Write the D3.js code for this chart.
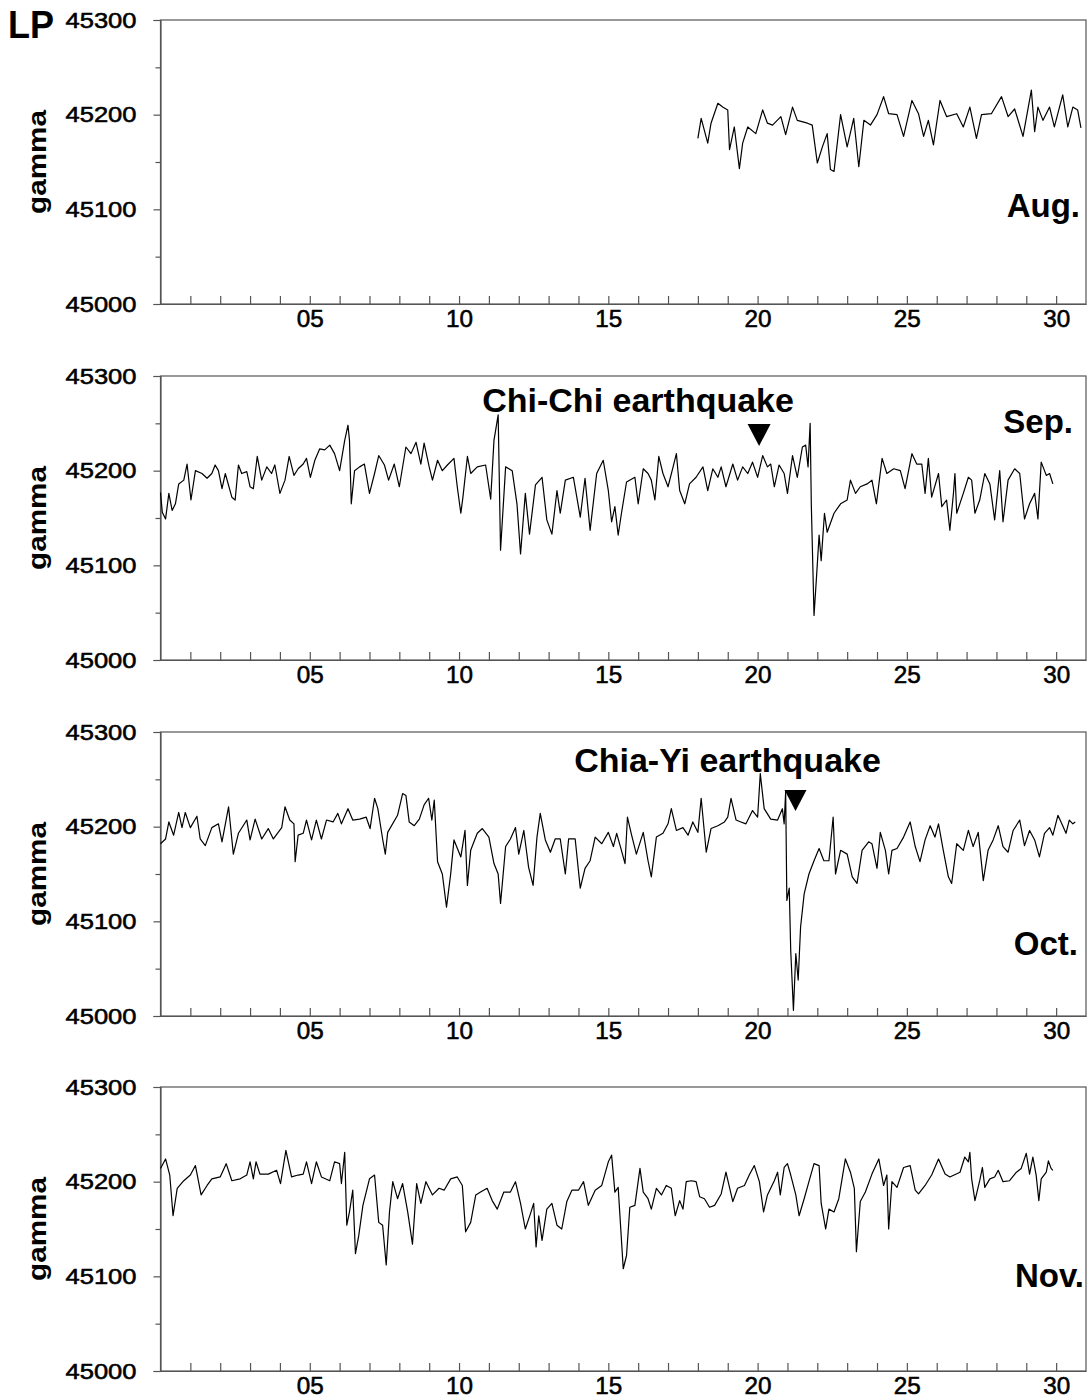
<!DOCTYPE html>
<html>
<head>
<meta charset="utf-8">
<script src="https://cdn.jsdelivr.net/npm/d3@7"></script>
<style>
  body { margin: 0; background: #fff; }
  svg { display: block; }
</style>
</head>
<body>
<div id="chart"></div>
<script>
// ---- Data (Aug-Nov) ----
const monthNames = ["Aug.", "Sep.", "Oct.", "Nov."];
const yTicks = [45000, 45100, 45200, 45300];
const yMinorTicks = [45050, 45150, 45250];
const dayTicks = d3.range(1, 31);
const dayLabels = [5, 10, 15, 20, 25, 30];

// [day of month, field in gamma]
const aug = [[18.00,45175],[18.11,45196],[18.33,45170],[18.44,45191],[18.67,45212],[18.83,45208],[19.0,45205],[19.06,45163],[19.22,45187],[19.39,45143],[19.5,45170],[19.67,45187],[19.94,45180],[20.17,45205],[20.33,45191],[20.5,45189],[20.78,45198],[20.94,45179],[21.17,45208],[21.33,45194],[21.67,45191],[21.83,45189],[22.0,45149],[22.17,45166],[22.33,45180],[22.44,45142],[22.56,45140],[22.78,45200],[23.0,45166],[23.22,45196],[23.39,45145],[23.56,45194],[23.78,45189],[24.0,45200],[24.22,45219],[24.39,45201],[24.67,45200],[24.89,45177],[25.17,45215],[25.39,45201],[25.56,45177],[25.72,45194],[25.89,45168],[26.11,45215],[26.33,45198],[26.67,45201],[26.89,45187],[27.11,45208],[27.33,45175],[27.5,45200],[27.83,45201],[28.17,45219],[28.39,45198],[28.61,45206],[28.89,45177],[29.17,45226],[29.28,45182],[29.39,45208],[29.56,45194],[29.78,45208],[29.94,45187],[30.22,45221],[30.39,45187],[30.56,45208],[30.72,45205],[30.83,45186]];

const sep = [[0,45177],[0.06,45156],[0.17,45149],[0.28,45176],[0.39,45158],[0.5,45165],[0.61,45186],[0.78,45190],[0.89,45207],[1.02,45169],[1.17,45200],[1.39,45197],[1.56,45192],[1.72,45197],[1.83,45206],[1.94,45200],[2.06,45181],[2.17,45197],[2.39,45172],[2.5,45169],[2.61,45206],[2.72,45197],[2.89,45199],[3.0,45183],[3.11,45181],[3.24,45215],[3.39,45190],[3.56,45204],[3.72,45197],[3.83,45206],[4.0,45176],[4.17,45190],[4.31,45215],[4.47,45195],[4.61,45202],[4.78,45207],[4.89,45213],[5.02,45193],[5.17,45211],[5.33,45223],[5.5,45222],[5.67,45227],[5.83,45218],[6.0,45200],[6.17,45232],[6.28,45248],[6.33,45232],[6.39,45165],[6.5,45200],[6.67,45204],[6.83,45207],[7.0,45176],[7.17,45197],[7.31,45216],[7.5,45206],[7.64,45190],[7.83,45207],[8.0,45183],[8.22,45225],[8.39,45218],[8.56,45230],[8.72,45207],[8.83,45229],[9.0,45204],[9.11,45190],[9.28,45211],[9.44,45200],[9.61,45206],[9.83,45213],[9.94,45183],[10.06,45155],[10.13,45172],[10.28,45215],[10.39,45197],[10.61,45204],[10.89,45206],[11.06,45170],[11.17,45232],[11.31,45259],[11.39,45116],[11.56,45204],[11.78,45200],[11.94,45165],[12.06,45112],[12.22,45176],[12.36,45133],[12.56,45185],[12.78,45193],[12.94,45148],[13.11,45133],[13.28,45179],[13.39,45155],[13.56,45190],[13.83,45193],[14.06,45151],[14.22,45192],[14.39,45137],[14.61,45197],[14.83,45211],[15.0,45179],[15.11,45146],[15.22,45162],[15.33,45132],[15.44,45155],[15.61,45188],[15.89,45193],[16.0,45165],[16.17,45202],[16.33,45197],[16.44,45190],[16.56,45169],[16.69,45215],[16.83,45197],[17.0,45183],[17.17,45204],[17.28,45218],[17.39,45179],[17.56,45165],[17.72,45186],[17.94,45193],[18.17,45204],[18.33,45179],[18.5,45202],[18.67,45193],[18.78,45204],[18.94,45183],[19.17,45207],[19.33,45190],[19.5,45204],[19.67,45197],[19.83,45209],[20.0,45193],[20.17,45216],[20.33,45204],[20.44,45207],[20.56,45183],[20.72,45206],[20.89,45197],[21.0,45176],[21.17,45216],[21.33,45193],[21.5,45225],[21.61,45227],[21.69,45204],[21.76,45250],[21.8,45163],[21.84,45112],[21.89,45047],[21.98,45091],[22.06,45132],[22.13,45105],[22.24,45155],[22.33,45135],[22.56,45155],[22.78,45165],[23.0,45169],[23.11,45190],[23.28,45176],[23.44,45183],[23.67,45186],[23.83,45190],[23.98,45165],[24.17,45213],[24.33,45197],[24.56,45202],[24.78,45200],[24.94,45181],[25.17,45218],[25.33,45207],[25.5,45207],[25.61,45176],[25.72,45213],[25.83,45172],[26.06,45197],[26.17,45162],[26.33,45169],[26.44,45137],[26.56,45176],[26.61,45197],[26.67,45155],[26.89,45176],[27.06,45193],[27.17,45190],[27.28,45155],[27.44,45169],[27.61,45197],[27.78,45186],[27.94,45148],[28.11,45200],[28.22,45146],[28.39,45190],[28.61,45202],[28.78,45197],[28.94,45149],[29.11,45165],[29.28,45176],[29.39,45149],[29.5,45209],[29.67,45195],[29.78,45197],[29.89,45186]];

const oct = [[0,45182],[0.17,45187],[0.28,45205],[0.44,45191],[0.61,45215],[0.72,45199],[0.83,45215],[1.0,45199],[1.22,45211],[1.33,45187],[1.5,45180],[1.72,45199],[1.94,45203],[2.06,45184],[2.28,45221],[2.44,45171],[2.61,45193],[2.89,45207],[3.0,45186],[3.17,45208],[3.39,45187],[3.61,45198],[3.78,45187],[4.06,45199],[4.17,45221],[4.33,45207],[4.47,45203],[4.51,45163],[4.61,45191],[4.78,45193],[4.89,45207],[5.06,45186],[5.22,45207],[5.39,45187],[5.56,45207],[5.78,45205],[5.94,45214],[6.06,45203],[6.28,45219],[6.44,45207],[6.67,45208],[6.89,45210],[7.02,45198],[7.17,45230],[7.28,45219],[7.44,45187],[7.53,45171],[7.61,45194],[7.94,45212],[8.11,45235],[8.22,45233],[8.33,45205],[8.5,45201],[8.67,45208],[8.83,45223],[8.98,45230],[9.09,45207],[9.17,45228],[9.28,45163],[9.44,45150],[9.58,45115],[9.72,45150],[9.83,45186],[10.06,45168],[10.2,45196],[10.28,45138],[10.39,45175],[10.61,45193],[10.78,45198],[11.0,45189],[11.17,45161],[11.31,45150],[11.39,45119],[11.56,45179],[11.72,45187],[11.89,45199],[12.0,45171],[12.17,45196],[12.33,45157],[12.48,45138],[12.61,45189],[12.72,45214],[12.89,45186],[13.06,45173],[13.22,45187],[13.39,45187],[13.56,45150],[13.67,45187],[13.89,45187],[14.06,45135],[14.22,45156],[14.39,45164],[14.56,45189],[14.78,45182],[15.0,45194],[15.17,45179],[15.28,45193],[15.42,45177],[15.56,45161],[15.64,45210],[15.78,45191],[15.94,45171],[16.17,45194],[16.33,45164],[16.44,45147],[16.61,45189],[16.83,45193],[17.0,45203],[17.11,45219],[17.28,45196],[17.5,45199],[17.67,45191],[17.83,45205],[18.0,45194],[18.11,45230],[18.28,45173],[18.44,45198],[18.67,45201],[18.89,45205],[19.0,45210],[19.11,45230],[19.28,45207],[19.44,45205],[19.61,45203],[19.83,45217],[20.0,45210],[20.09,45256],[20.22,45219],[20.44,45208],[20.67,45207],[20.83,45219],[20.89,45203],[20.94,45237],[20.98,45122],[21.06,45135],[21.11,45069],[21.2,45006],[21.28,45066],[21.36,45038],[21.44,45094],[21.56,45129],[21.72,45150],[21.89,45164],[22.06,45177],[22.22,45164],[22.39,45164],[22.53,45210],[22.61,45150],[22.78,45175],[23.0,45171],[23.17,45147],[23.33,45140],[23.5,45175],[23.72,45184],[23.83,45182],[24.0,45156],[24.11,45194],[24.28,45175],[24.39,45150],[24.5,45175],[24.67,45177],[24.89,45189],[25.11,45205],[25.28,45179],[25.44,45163],[25.61,45186],[25.78,45201],[25.94,45189],[26.06,45203],[26.22,45175],[26.39,45147],[26.5,45140],[26.67,45182],[26.89,45175],[27.06,45196],[27.22,45179],[27.39,45194],[27.56,45143],[27.72,45175],[27.89,45186],[28.06,45201],[28.22,45179],[28.39,45173],[28.56,45196],[28.78,45207],[28.94,45180],[29.11,45196],[29.28,45186],[29.44,45168],[29.61,45193],[29.78,45199],[29.89,45191],[30.06,45212],[30.22,45201],[30.33,45193],[30.44,45207],[30.56,45203],[30.64,45205]];

const nov = [[0,45214],[0.17,45224],[0.31,45207],[0.42,45164],[0.56,45193],[0.78,45201],[1.0,45207],[1.17,45217],[1.36,45186],[1.56,45196],[1.72,45203],[2.0,45205],[2.2,45219],[2.39,45201],[2.67,45203],[2.89,45207],[3.0,45221],[3.11,45203],[3.2,45221],[3.33,45208],[3.61,45208],[3.89,45212],[4.02,45198],[4.2,45233],[4.39,45205],[4.61,45207],[4.78,45208],[4.89,45221],[5.06,45198],[5.22,45221],[5.39,45205],[5.67,45201],[5.83,45221],[6.0,45219],[6.06,45198],[6.17,45231],[6.24,45154],[6.33,45168],[6.44,45191],[6.53,45124],[6.64,45143],[6.78,45175],[7.0,45203],[7.17,45207],[7.31,45157],[7.44,45154],[7.56,45112],[7.67,45168],[7.78,45200],[7.94,45182],[8.11,45198],[8.28,45168],[8.44,45134],[8.58,45198],[8.72,45177],[8.89,45200],[9.11,45186],[9.33,45193],[9.5,45191],[9.72,45203],[9.94,45205],[10.11,45196],[10.22,45147],[10.39,45157],[10.56,45186],[10.72,45189],[10.94,45193],[11.11,45180],[11.28,45171],[11.5,45189],[11.72,45189],[11.89,45200],[12.06,45177],[12.22,45150],[12.39,45166],[12.5,45177],[12.58,45131],[12.67,45164],[12.78,45138],[12.94,45171],[13.11,45177],[13.28,45154],[13.44,45150],[13.61,45179],[13.78,45191],[14.0,45191],[14.17,45200],[14.33,45175],[14.56,45191],[14.78,45196],[15.0,45221],[15.11,45228],[15.22,45189],[15.33,45194],[15.5,45108],[15.61,45122],[15.72,45173],[15.89,45175],[16.06,45214],[16.17,45189],[16.33,45182],[16.44,45171],[16.61,45193],[16.78,45186],[16.94,45196],[17.11,45193],[17.24,45164],[17.39,45180],[17.5,45171],[17.61,45200],[17.78,45201],[17.94,45200],[18.06,45184],[18.22,45182],[18.39,45173],[18.56,45175],[18.78,45187],[18.94,45210],[19.17,45179],[19.33,45193],[19.56,45196],[19.72,45207],[19.89,45217],[20.06,45200],[20.2,45168],[20.33,45186],[20.56,45201],[20.67,45210],[20.76,45186],[20.89,45215],[21.0,45219],[21.11,45207],[21.28,45186],[21.39,45164],[21.56,45182],[21.72,45200],[21.89,45219],[22.06,45217],[22.13,45177],[22.28,45150],[22.39,45171],[22.56,45168],[22.72,45182],[22.94,45224],[23.11,45210],[23.24,45193],[23.31,45126],[23.44,45179],[23.61,45189],[23.83,45208],[24.06,45224],[24.22,45196],[24.33,45207],[24.39,45150],[24.5,45200],[24.67,45194],[24.89,45215],[25.11,45217],[25.28,45191],[25.39,45187],[25.61,45196],[25.83,45207],[26.06,45224],[26.28,45208],[26.44,45205],[26.78,45210],[26.94,45226],[27.06,45221],[27.11,45231],[27.17,45203],[27.28,45180],[27.44,45201],[27.53,45215],[27.61,45194],[27.78,45203],[27.94,45205],[28.06,45212],[28.22,45200],[28.44,45201],[28.67,45210],[28.83,45214],[29.0,45230],[29.11,45208],[29.22,45226],[29.33,45207],[29.42,45180],[29.5,45203],[29.67,45210],[29.74,45222],[29.83,45214],[29.89,45212]];

const series = [aug, sep, oct, nov];

// earthquake markers: panel index, label, day of the event
const quakes = [
  { panel: 1, label: "Chi-Chi earthquake", day: 20.05 },
  { panel: 2, label: "Chia-Yi earthquake", day: 21.27 }
];

// ---- Layout ----
const width = 1088, height = 1398;
const left = 160.5, right = 1086;
const panelTops = [20, 376, 732, 1087];
const panelH = 284;
const axisColor = "#555";
const font = "'Liberation Sans', Arial, Helvetica, sans-serif";
// month label: right edge x, baseline offset from panel top
const monthLabelPos = [[1080, 197], [1073, 57], [1078, 223], [1084, 200]];
// quake annotation: text offset from the triangle, triangle offsets from panel top
const quakeLayout = [
  { textDx: -121, textDy: 36, triTop: 48, triBottom: 70, triHalf: 11.5 },
  { textDx: -68, textDy: 40, triTop: 58, triBottom: 79, triHalf: 11 }
];

const x = d3.scaleLinear([0, 31], [left, right]);

const svg = d3.select("#chart").append("svg")
  .attr("width", width)
  .attr("height", height)
  .attr("viewBox", [0, 0, width, height])
  .style("font-family", font);

svg.append("rect").attr("width", width).attr("height", height).attr("fill", "#fff");

// station label
svg.append("text")
  .attr("x", 8).attr("y", 38)
  .attr("font-size", 38).attr("font-weight", 700)
  .attr("textLength", 46).attr("lengthAdjust", "spacingAndGlyphs")
  .text("LP");

series.forEach((data, i) => {
  const top = panelTops[i];
  const bottom = top + panelH;
  const y = d3.scaleLinear([45000, 45300], [bottom, top]);
  const g = svg.append("g");

  // frame
  g.append("rect")
    .attr("x", left).attr("y", top)
    .attr("width", right - left).attr("height", panelH)
    .attr("fill", "none").attr("stroke", axisColor).attr("stroke-width", 1.2);

  // y axis: major ticks with labels, minor ticks between
  g.append("g")
    .attr("transform", `translate(${left},0)`)
    .call(d3.axisLeft(y).tickValues(yTicks).tickSize(7).tickPadding(17).tickFormat(d3.format("d")))
    .call(a => a.select(".domain").attr("stroke", axisColor).attr("stroke-width", 1.2))
    .call(a => a.selectAll(".tick line").attr("stroke", axisColor).attr("stroke-width", 1.2))
    .call(a => a.selectAll(".tick text")
      .attr("font-family", font).attr("font-size", 22).attr("fill", "#000")
      .attr("stroke", "#000").attr("stroke-width", 0.55)
      .attr("textLength", 71).attr("lengthAdjust", "spacingAndGlyphs"));

  g.append("g")
    .attr("transform", `translate(${left},0)`)
    .call(d3.axisLeft(y).tickValues(yMinorTicks).tickSize(5).tickFormat(""))
    .call(a => a.select(".domain").remove())
    .call(a => a.selectAll(".tick line").attr("stroke", axisColor).attr("stroke-width", 1.2));

  // x axis: day ticks pointing inward, labels every 5 days
  g.append("g")
    .attr("transform", `translate(0,${bottom})`)
    .call(d3.axisBottom(x).tickValues(dayTicks).tickSizeInner(-8).tickSizeOuter(0).tickPadding(7)
      .tickFormat(d => dayLabels.includes(d) ? d3.format("02d")(d) : ""))
    .call(a => a.select(".domain").attr("stroke", axisColor).attr("stroke-width", 1.2))
    .call(a => a.selectAll(".tick line").attr("stroke", axisColor).attr("stroke-width", 1.2))
    .call(a => a.selectAll(".tick text")
      .attr("font-family", font).attr("font-size", 23).attr("fill", "#000")
      .attr("stroke", "#000").attr("stroke-width", 0.55)
      .attr("textLength", d => dayLabels.includes(d) ? 27 : null)
      .attr("lengthAdjust", "spacingAndGlyphs"));

  // y title
  g.append("text")
    .attr("transform", `translate(46,${top + panelH / 2}) rotate(-90)`)
    .attr("text-anchor", "middle")
    .attr("font-size", 25).attr("font-weight", 700)
    .attr("textLength", 104).attr("lengthAdjust", "spacingAndGlyphs")
    .text("gamma");

  // trace
  g.append("path")
    .datum(data)
    .attr("fill", "none")
    .attr("stroke", "#000")
    .attr("stroke-width", 1.2)
    .attr("stroke-linejoin", "round")
    .attr("d", d3.line().x(d => x(d[0])).y(d => y(d[1])));

  // month label
  const [mx, my] = monthLabelPos[i];
  g.append("text")
    .attr("x", mx).attr("y", top + my)
    .attr("text-anchor", "end")
    .attr("font-size", 33).attr("font-weight", 700)
    .text(monthNames[i]);
});

// earthquake annotations
quakes.forEach((q, k) => {
  const top = panelTops[q.panel];
  const L = quakeLayout[k];
  const cx = x(q.day);
  svg.append("path")
    .attr("d", `M${cx - L.triHalf},${top + L.triTop}L${cx + L.triHalf},${top + L.triTop}L${cx},${top + L.triBottom}Z`)
    .attr("fill", "#000");
  svg.append("text")
    .attr("x", cx + L.textDx).attr("y", top + L.textDy)
    .attr("text-anchor", "middle")
    .attr("font-size", 34).attr("font-weight", 700)
    .text(q.label);
});
</script>
</body>
</html>
